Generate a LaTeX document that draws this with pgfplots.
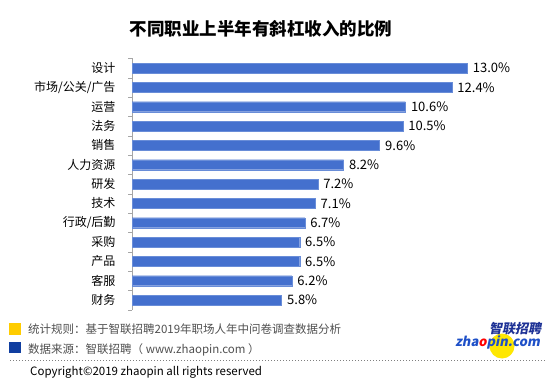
\documentclass[border=0pt]{standalone}
\usepackage{fontspec}
\setmainfont{Noto Sans CJK SC}
\newfontfamily\logofont{Noto Sans CJK SC}[FakeSlant=0.2]
\usepackage{pgfplots}
\pgfplotsset{compat=1.18}
\definecolor{barblue}{RGB}{68,112,206}
\definecolor{txtgray}{RGB}{80,80,80}
\definecolor{lgyellow}{RGB}{255,204,0}
\definecolor{lgblue}{RGB}{16,62,160}
\definecolor{logoblue}{RGB}{30,80,200}
\definecolor{logodark}{RGB}{30,50,150}
\begin{document}
\begin{tikzpicture}
\path[fill=white] (0,0) rectangle (553pt,388pt);
\node[font=\fontsize{17.5}{20}\selectfont\bfseries] at (261pt,359pt) {不同职业上半年有斜杠收入的比例};
\begin{axis}[
  at={(132pt,78.3pt)}, anchor=south west,
  scale only axis, width=387pt, height=251.3pt,
  xmin=0, xmax=15, ymin=-0.5, ymax=12.5,
  y dir=reverse, xbar, bar width=10pt,
  axis x line=none, axis y line*=left,
  y axis line style={gray!70},
  ytick={0,...,12},
  yticklabels={设计,市场/公关/广告,运营,法务,销售,人力资源,研发,技术,行政/后勤,采购,产品,客服,财务},
  minor ytick={-0.5,0.5,...,12.5},
  major tick length=0pt, minor tick length=4pt, tick align=outside,
  minor tick style={gray!70},
  yticklabel style={font=\fontsize{12}{14}\selectfont, text=black, xshift=-13pt},
  clip=false,
  point meta=x,
  /pgf/number format/assume math mode=true,
  nodes near coords={\pgfmathprintnumber[fixed,fixed zerofill,precision=1,assume math mode=true]{\pgfplotspointmeta}\%},
  every node near coord/.append style={font=\fontsize{13}{15}\selectfont, text=black, anchor=west, xshift=2pt},
]
\addplot[fill=barblue, draw=barblue!80!white] coordinates {
(13.0,0) (12.4,1) (10.6,2) (10.5,3) (9.6,4) (8.2,5) (7.2,6) (7.1,7) (6.7,8) (6.5,9) (6.5,10) (6.2,11) (5.8,12)};
\end{axis}
% legend notes
\fill[lgyellow] (9pt,65pt) rectangle (21pt,53pt);
\fill[lgblue] (9pt,46pt) rectangle (21pt,35pt);
\node[anchor=west, inner sep=0pt, text=txtgray, font=\fontsize{11.5}{13}\selectfont] at (28pt,59pt) {统计规则：基于智联招聘2019年职场人年中问卷调查数据分析};
\node[anchor=west, inner sep=0pt, text=txtgray, font=\fontsize{11.5}{13}\selectfont] at (28pt,38pt) {数据来源：智联招聘（ www.zhaopin.com ）};
\draw[gray, dotted, line width=1pt] (10pt,28pt) -- (545pt,28pt);
\node[anchor=west, inner sep=0pt, font=\fontsize{11.5}{13}\selectfont] at (30pt,16pt) {Copyright©2019 zhaopin all rights reserved};
% logo
\fill[yellow!90!orange] (502pt,42pt) circle (12.5pt);
\node[text=logodark, font=\fontsize{13}{14}\selectfont\logofont\bfseries] at (515pt,59pt) {智联招聘};
\node[text=logoblue, font=\fontsize{13}{14}\selectfont\logofont\bfseries] at (497.5pt,46pt) {zha\textcolor{red}{o}pin.com};
\pgfresetboundingbox
\path (0,0) rectangle (553pt,388pt);
\end{tikzpicture}
\end{document}
